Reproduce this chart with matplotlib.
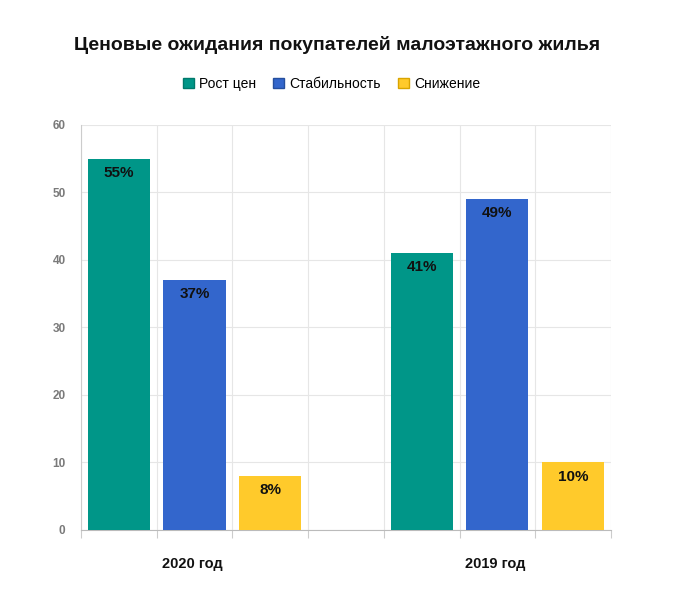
import numpy as np
import matplotlib.pyplot as plt

plt.rcParams['font.family'] = ['Liberation Sans', 'DejaVu Sans']

years = ['2020 год', '2019 год']
series = ['Рост цен', 'Стабильность', 'Снижение']
values = {
    'Рост цен': [55, 41],
    'Стабильность': [37, 49],
    'Снижение': [8, 10],
}
colors = ['#009688', '#3366cc', '#ffca2b']
edges = ['#00796b', '#254f9e', '#d9a400']
yticks = [0, 10, 20, 30, 40, 50, 60]

fig = plt.figure(figsize=(6.74, 6.0), dpi=100)
ax = fig.add_axes([0.120, 0.1167, 0.7865, 0.675])

n_ser = len(series)
slot = n_ser + 1  # one empty slot between groups
for g, year in enumerate(years):
    for s, name in enumerate(series):
        x = g * slot + s
        v = values[name][g]
        ax.bar(x, v, width=0.82, color=colors[s], zorder=3)
        ax.text(x, v - 2.1, f'{v}%', ha='center', va='center',
                fontsize=11, fontweight='bold', color='#111111', zorder=4)
    ax.text(g * slot + 0.97, -5.0, year, ha='center', va='center',
            fontsize=10.5, fontweight='bold', color='#111111')

last = (len(years) - 1) * slot + n_ser - 1
ax.set_xlim(-0.5, last + 0.5)
ax.set_ylim(0, 60)
ax.set_yticks(yticks)
ax.set_xticks(np.arange(-0.5, last + 1, 1.0))
ax.set_xticklabels([])
ax.grid(True, color='#e6e6e6', linewidth=0.8, zorder=0)
ax.tick_params(axis='x', length=6, color='#cccccc', width=0.8)
ax.tick_params(axis='y', length=0, pad=11, labelsize=8.5, labelcolor='#7a7a7a')
for lab in ax.get_yticklabels():
    lab.set_fontweight('bold')
for side in ['top', 'right']:
    ax.spines[side].set_visible(False)
ax.spines['left'].set_color('#cccccc')
ax.spines['bottom'].set_color('#bbbbbb')

fig.text(0.5, 0.925, 'Ценовые ожидания покупателей малоэтажного жилья',
         ha='center', va='center', fontsize=14, fontweight='bold', color='#111111')

handles = [plt.Rectangle((0, 0), 1, 1, facecolor=colors[i], edgecolor=edges[i], linewidth=1.0)
           for i in range(n_ser)]
fig.legend(handles, series, loc='center', bbox_to_anchor=(0.492, 0.86), ncol=3,
           frameon=False, fontsize=10, handlelength=0.8, handleheight=0.8,
           handletextpad=0.4, columnspacing=1.2)

fig.savefig('out.png', dpi=100)
